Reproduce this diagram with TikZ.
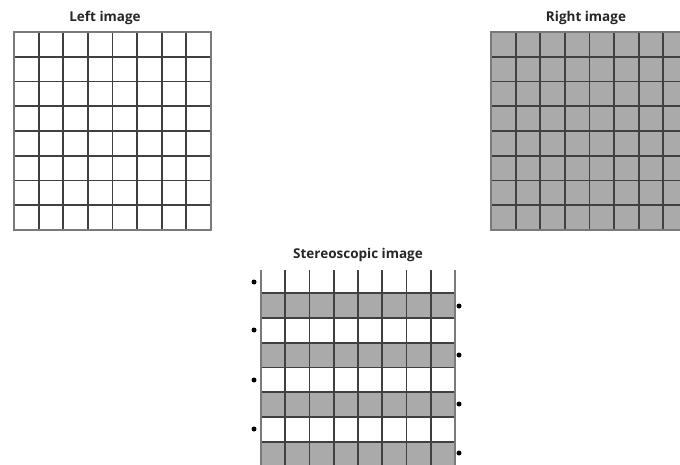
\documentclass[tikz,border=0pt]{standalone}
\usepackage{fontspec}
\setmainfont{Open Sans}
\definecolor{cellgray}{HTML}{AAAAAA}
\definecolor{gridline}{HTML}{404040}
\definecolor{edgeline}{HTML}{7A7A7A}
\begin{document}
\begin{tikzpicture}[x=1pt,y=-1pt,
  title/.style={font=\bfseries\fontsize{13.5}{15}\selectfont, text=black!85, inner sep=0pt, anchor=center},
  gline/.style={draw=gridline, line width=1.8pt},
  eline/.style={draw=edgeline, line width=1.5pt},
  mark dot/.style={circle, fill=black, inner sep=0pt, minimum size=5pt}]
\useasboundingbox (0,0) rectangle (680,464);
% ---------- Left image ----------
\node[title] (lt) at (105,18) {Left image};
\def\lx{14}\def\ly{32}\def\cw{24.6}\def\ch{24.75}
\foreach \i in {1,...,7} {
  \draw[gline] ({\lx+\i*\cw},\ly) -- ({\lx+\i*\cw},{\ly+8*\ch});
  \draw[gline] (\lx,{\ly+\i*\ch}) -- ({\lx+8*\cw},{\ly+\i*\ch});
}
\draw[eline] (\lx,\ly) rectangle ({\lx+8*\cw},{\ly+8*\ch});
% ---------- Right image ----------
\node[title] (rt) at (586,18) {Right image};
\def\rx{491}
\fill[cellgray] (\rx,\ly) rectangle ({\rx+8*\cw},{\ly+8*\ch});
\foreach \i in {1,...,7} {
  \draw[gline] ({\rx+\i*\cw},\ly) -- ({\rx+\i*\cw},{\ly+8*\ch});
  \draw[gline] (\rx,{\ly+\i*\ch}) -- ({\rx+8*\cw},{\ly+\i*\ch});
}
\draw[eline] (\rx,\ly) rectangle ({\rx+8*\cw},{\ly+8*\ch});
% ---------- Stereoscopic image ----------
\node[title] (st) at (358,255) {Stereoscopic image};
\def\sx{261}\def\sw{24.25}\def\sy{293}\def\sh{24.8}
\foreach \r in {0,2,4,6} {
  \fill[cellgray] (\sx,{\sy+\r*\sh}) rectangle ({\sx+8*\sw},{\sy+(\r+1)*\sh});
}
\foreach \i in {0,...,7} {
  \draw[gline] (\sx,{\sy+\i*\sh}) -- ({\sx+8*\sw},{\sy+\i*\sh});
}
\foreach \i in {1,...,7} {
  \draw[gline] ({\sx+\i*\sw},270) -- ({\sx+\i*\sw},470);
}
\draw[eline] (\sx,270) -- (\sx,470);
\draw[eline] ({\sx+8*\sw},270) -- ({\sx+8*\sw},470);
% dots
\foreach \k/\y in {1/282,2/330,3/380,4/429} {
  \node[mark dot] (ld\k) at (254,\y) {};
}
\foreach \k/\y in {1/306,2/355,3/404,4/453} {
  \node[mark dot] (rd\k) at (459,\y) {};
}
\end{tikzpicture}
\end{document}
